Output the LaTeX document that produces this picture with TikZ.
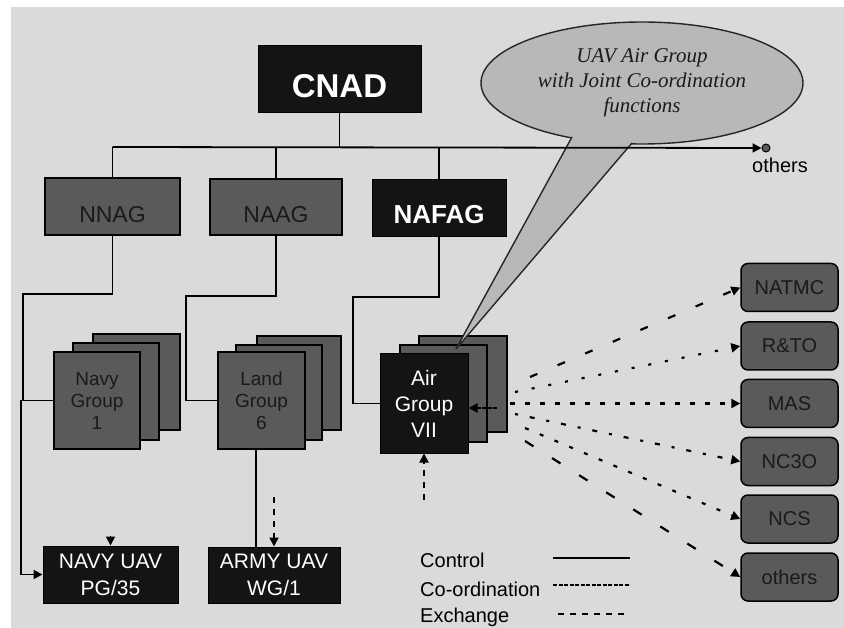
\documentclass[tikz,border=0pt]{standalone}
\usepackage{fontspec}
\setmainfont{Liberation Sans}
\newfontfamily\bubblefont{Liberation Serif}
\usetikzlibrary{arrows.meta,shapes.geometric}
\definecolor{bgc}{HTML}{DADADA}
\definecolor{dgray}{HTML}{5A5A5A}
\definecolor{blk}{HTML}{141414}
\definecolor{bubc}{HTML}{B8B8B8}
\definecolor{dtxt}{HTML}{1A1A1A}
\begin{document}
\begin{tikzpicture}[x=1pt,y=-1pt,
  blackbox/.style={draw=black, fill=blk, text=white, line width=1pt, inner sep=0pt, align=center},
  graybox/.style={draw=black, fill=dgray, text=dtxt, line width=1.5pt, inner sep=0pt, align=center},
  rbox/.style={graybox, rounded corners=7pt, minimum width=97pt, minimum height=48pt, font=\fontsize{20}{22}\selectfont},
  ctrl/.style={draw=black, line width=1.8pt},
  coordl/.style={draw=black, line width=1.8pt, dash pattern=on 4pt off 1.5pt},
  exch/.style={draw=black, line width=1.8pt, dash pattern=on 6pt off 6pt},
  tip/.style={-{Triangle[length=9pt,width=9pt]}},
  fan/.style={draw=black, line width=2.2pt, tip},
  lgd/.style={anchor=west, inner sep=0pt, font=\fontsize{20}{22}\selectfont, text=black},
]
\fill[white] (0,0) rectangle (844,628);
\fill[bgc] (11,7) rectangle (844,628);
\useasboundingbox (0,0) rectangle (844,628);

% top level
\node[blackbox, minimum width=163pt, minimum height=67pt, font=\bfseries\fontsize{33}{36}\selectfont] (cnad) at (339.5,79.5) {\raisebox{-7pt}[\height][\depth]{CNAD}};
\node[graybox, minimum width=135pt, minimum height=57pt, font=\fontsize{23}{26}\selectfont] (nnag) at (112.5,206.5) {\raisebox{-8pt}[\height][\depth]{NNAG}};
\node[graybox, minimum width=132pt, minimum height=56pt, font=\fontsize{23}{26}\selectfont] (naag) at (276,207) {\raisebox{-8pt}[\height][\depth]{NAAG}};
\node[blackbox, minimum width=134pt, minimum height=57pt, font=\bfseries\fontsize{26}{30}\selectfont] (nafag) at (439,208.5) {\raisebox{-6pt}[\height][\depth]{NAFAG}};

% speech bubble
\node[ellipse, draw=black!85, fill=bubc, line width=1.4pt, minimum width=322pt, minimum height=122pt, inner sep=0pt,
      align=center, text=dtxt, font=\bubblefont\itshape\fontsize{21}{25}\selectfont] (bubble) at (642,83)
      {UAV Air Group\\with Joint Co-ordination\\functions};

\coordinate (hl) at (112.5,147);
\node[circle, fill=dgray, draw=black, line width=1pt, minimum size=8pt, inner sep=0pt] (odot) at (766,148) {};
\node[inner sep=0pt, font=\fontsize{20}{22}\selectfont] (olab) at (780,165) {others};
\draw[ctrl] (cnad.south) -- (cnad.south |- hl);
\draw[ctrl] (hl) -- (nnag.north);
\draw[ctrl] (naag.north |- hl) -- (naag.north);
\draw[ctrl] (nafag.north |- hl) -- (nafag.north);

% group stacks
\node[graybox, minimum width=87pt, minimum height=96pt] (navyB) at (136.5,382) {};
\node[graybox, minimum width=86pt, minimum height=97pt] (navyM) at (116,391.5) {};
\node[graybox, minimum width=86pt, minimum height=97pt, font=\fontsize{19}{22}\selectfont] (navyF) at (97,400.5) {Navy\\Group\\1};

\node[graybox, minimum width=84pt, minimum height=94pt] (landB) at (299,383) {};
\node[graybox, minimum width=86pt, minimum height=95pt] (landM) at (279,392.5) {};
\node[graybox, minimum width=87pt, minimum height=97pt, font=\fontsize{19}{22}\selectfont] (landF) at (261.5,400.5) {Land\\Group\\6};

\node[graybox, minimum width=88pt, minimum height=96pt] (airB) at (463,384) {};
\node[graybox, minimum width=87pt, minimum height=97pt] (airM) at (443.5,393.5) {};
\node[blackbox, minimum width=88pt, minimum height=99pt, font=\fontsize{21}{26}\selectfont] (airF) at (424,403.5) {Air\\Group\\VII};

% bubble tail (drawn over the stack)
\fill[bubc] (571,128) -- (572,137) -- (456,349) -- (632,143) -- (633,130) -- cycle;
\draw[black!85, line width=1.4pt, line join=round] (572,137) -- (456,349) -- (632,143);

% main horizontal line crosses the tail
\draw[ctrl, tip] (hl) -- (odot.west);

% control paths to groups
\draw[ctrl] (nnag.south) -- (112.5,294) -- (23,294) |- (navyF.west);
\draw[ctrl] (naag.south) -- (276,296) -- (186,296) |- (landF.west);
\draw[ctrl] (nafag.south) -- (439,297) -- (353,297) |- (airF.west);

% UAV units
\node[blackbox, minimum width=135pt, minimum height=57pt, font=\fontsize{21}{27}\selectfont] (navyuav) at (110.5,574.5) {NAVY UAV\\PG/35};
\node[blackbox, minimum width=132pt, minimum height=56pt, font=\fontsize{21}{27}\selectfont] (armyuav) at (274,575) {ARMY UAV\\WG/1};

\draw[ctrl, tip] (navyF.west) -- (21,400.5) |- (navyuav.west);
\draw[ctrl] ([xshift=-5.5pt]landF.south) -- ([xshift=-18pt]armyuav.north);
\coordinate (ex1) at (274,497);
\draw[exch, tip] (ex1) -- (armyuav.north);
\coordinate (ex2) at (110.5,536);
\draw[exch, tip] (ex2) -- (navyuav.north);
\coordinate (ex3) at (424,500);
\draw[exch, tip] (ex3) -- (airF.south);
\coordinate (ex4) at (497,408);
\draw[coordl, tip] (ex4) -- ([yshift=-4.5pt]airF.east);

% right boxes
\node[rbox] (natmc) at (789.5,287.5) {NATMC};
\node[rbox] (rto) at (789.5,346) {R\&TO};
\node[rbox] (mas) at (789.5,403.5) {MAS};
\node[rbox] (nc3o) at (789.5,461.5) {NC3O};
\node[rbox] (ncs) at (789.5,519) {NCS};
\node[rbox] (oth) at (789.5,577) {others};

\coordinate (f1) at (530,377);
\coordinate (f2) at (515,392);
\coordinate (f3) at (510,403.5);
\coordinate (f4) at (515,414);
\coordinate (f5) at (525,428);
\coordinate (f6) at (525,441);
\draw[fan, dash pattern=on 8pt off 22pt] (f1) -- (natmc.west);
\draw[fan, dash pattern=on 3pt off 14pt] (f2) -- (rto.west);
\draw[fan, dash pattern=on 5pt off 10pt] (f3) -- (mas.west);
\draw[fan, dash pattern=on 3pt off 12pt on 5pt off 12pt] (f4) -- (nc3o.west);
\draw[fan, dash pattern=on 4pt off 12pt] (f5) -- (ncs.west);
\draw[fan, dash pattern=on 10pt off 22pt] (f6) -- (oth.west);

% legend
\node[lgd] (lc) at (420,560) {Control};
\node[lgd] (lo) at (420,589) {Co-ordination};
\node[lgd] (le) at (420,617) {Exchange};
\coordinate (l1a) at (553,558); \coordinate (l1b) at (630,558);
\coordinate (l2a) at (553,585); \coordinate (l2b) at (630,585);
\coordinate (l3a) at (558,614); \coordinate (l3b) at (628,614);
\draw[ctrl] (l1a) -- (l1b);
\draw[coordl] (l2a) -- (l2b);
\draw[exch] (l3a) -- (l3b);
\end{tikzpicture}
\end{document}
